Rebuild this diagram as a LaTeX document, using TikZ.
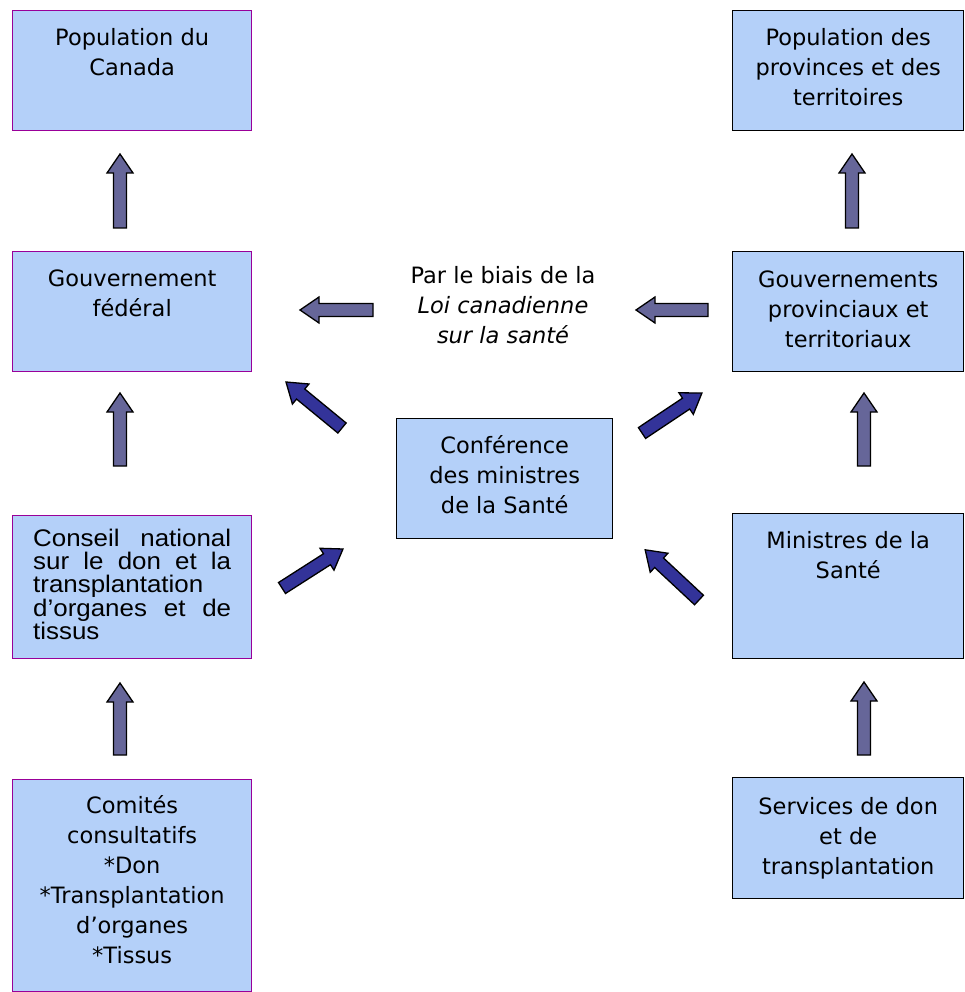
\documentclass[tikz,border=0pt]{standalone}
\usepackage{fontspec}
\setmainfont{DejaVu Sans}
\newfontfamily\arialf{Liberation Sans}[FakeStretch=1.08]
\definecolor{boxfill}{RGB}{180,208,249}
\definecolor{purpleborder}{RGB}{153,0,153}
\definecolor{grayarrow}{RGB}{102,102,153}
\definecolor{bluearrow}{RGB}{51,51,153}
\newcommand\fst{\rule{0pt}{20pt}}
\newcommand\barrow[4]{%
  \begin{scope}[shift={#1}, rotate=#2]
    \draw[arrowline, fill=#4] (0,-6.5) -- (#3-19,-6.5) -- (#3-19,-13) -- (#3,0)
      -- (#3-19,13) -- (#3-19,6.5) -- (0,6.5) -- cycle;
  \end{scope}}
\begin{document}
\begin{tikzpicture}[x=1pt,y=-1pt,
  boxbase/.style={rectangle, fill=boxfill, line width=1.4pt, inner sep=0pt, anchor=north west},
  lbox/.style={boxbase, draw=purpleborder},
  rbox/.style={boxbase, draw=black},
  txt/.style={inner sep=0pt, anchor=north, align=center, font=\fontsize{22.5}{30}\selectfont},
  arrowline/.style={draw=black, line width=1.3pt, line join=miter}]
\useasboundingbox (0,0) rectangle (964,992);

% left column boxes
\node[lbox, minimum width=239pt, minimum height=120pt] (popca) at (12,10) {};
\node[lbox, minimum width=239pt, minimum height=120pt] (gouvfed) at (12,251) {};
\node[lbox, minimum width=239pt, minimum height=143pt] (conseil) at (12,515) {};
\node[lbox, minimum width=239pt, minimum height=212pt] (comites) at (12,779) {};
% right column boxes
\node[rbox, minimum width=231pt, minimum height=120pt] (poppt) at (732,10) {};
\node[rbox, minimum width=231pt, minimum height=120pt] (gouvpt) at (732,251) {};
\node[rbox, minimum width=231pt, minimum height=145pt] (ministres) at (732,513) {};
\node[rbox, minimum width=231pt, minimum height=121pt] (services) at (732,777) {};
% centre box
\node[rbox, minimum width=216pt, minimum height=120pt] (conf) at (396,418) {};

% texts
\node[txt] (popcaT) at ([yshift=-15pt]popca.north) {\fst Population du\\Canada};
\node[txt] (gouvfedT) at ([yshift=-15pt]gouvfed.north) {\fst Gouvernement\\fédéral};
\node[txt] (comitesT) at ([yshift=-14pt]comites.north) {\fst Comités\\consultatifs\\*Don\\*Transplantation\\d’organes\\*Tissus};
\node[txt] (popptT) at ([yshift=-15pt]poppt.north) {\fst Population des\\provinces et des\\territoires};
\node[txt] (gouvptT) at ([yshift=-16pt]gouvpt.north) {\fst Gouvernements\\provinciaux et\\territoriaux};
\node[txt] (ministresT) at ([yshift=-15pt]ministres.north) {\fst Ministres de la\\Santé};
\node[txt] (servicesT) at ([yshift=-17pt]services.north) {\fst Services de don\\et de\\transplantation};
\node[txt] (confT) at ([yshift=-15pt]conf.north) {\fst Conférence\\des ministres\\de la Santé};
\node[txt] (loi) at (503,263) {\fst Par le biais de la\\\textit{Loi canadienne}\\\textit{sur la santé}};
\node[inner sep=0pt, anchor=north west, align=left,
      font=\arialf\fontsize{24}{23.3}\selectfont] (conseilT) at (33,528)
  {\rule{0pt}{18pt}\makebox[198pt][s]{Conseil national}\\
   \makebox[198pt][s]{sur le don et la}\\
   transplantation\\
   \makebox[198pt][s]{d’organes et de}\\
   tissus};

% vertical arrows (left)
\barrow{(120,228)}{90}{74}{grayarrow}
\barrow{(120,466)}{90}{73}{grayarrow}
\barrow{(120,755)}{90}{72}{grayarrow}
% vertical arrows (right)
\barrow{(852,228)}{90}{74}{grayarrow}
\barrow{(864,466)}{90}{73}{grayarrow}
\barrow{(864,755)}{90}{73}{grayarrow}
% horizontal arrows
\barrow{(373,310)}{180}{73}{grayarrow}
\barrow{(708,310)}{180}{72}{grayarrow}
% diagonal arrows
\barrow{(342,428)}{140.6}{72.5}{bluearrow}
\barrow{(282,588)}{32.6}{72.4}{bluearrow}
\barrow{(642,433)}{33.7}{72}{bluearrow}
\barrow{(699,600)}{137}{73.6}{bluearrow}
\end{tikzpicture}
\end{document}
